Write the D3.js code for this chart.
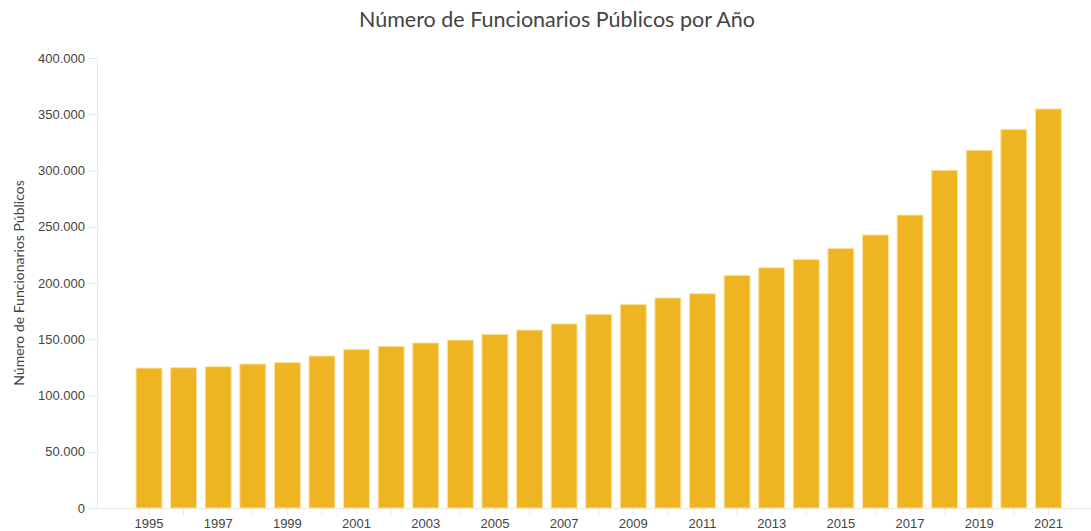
<!DOCTYPE html>
<html>
<head>
<meta charset="utf-8">
<script src="https://cdn.jsdelivr.net/npm/d3@7"></script>
<style>
  html, body { margin: 0; padding: 0; background: #fff; }
  svg { display: block; font-family: "Lato", "Open Sans", sans-serif; }
</style>
</head>
<body>
<svg id="chart" width="1091" height="531"></svg>
<script>
const years = [1995,1996,1997,1998,1999,2000,2001,2002,2003,2004,2005,2006,2007,2008,2009,2010,2011,2012,2013,2014,2015,2016,2017,2018,2019,2020,2021];
const values = [124400,124700,125600,128000,129200,135100,141000,143700,146700,149300,154400,158200,163600,172200,181000,186700,190500,206800,213600,221000,230800,242700,260400,300200,318000,336600,354700];
const yTicks = [0,50000,100000,150000,200000,250000,300000,350000,400000];
const labelYears = [1995,1997,1999,2001,2003,2005,2007,2009,2011,2013,2015,2017,2019,2021];
const title = "Número de Funcionarios Públicos por Año";
const yTitle = "Número de Funcionarios Públicos";

const svg = d3.select("#chart");
const W = 1091, H = 531;
const yTop = 58, yBottom = 508, xLeft = 97;

const locale = d3.formatLocale({decimal: ",", thousands: ".", grouping: [3], currency: ["", ""]});
const fmt = locale.format(",d");

const x = d3.scaleBand().domain(years).range([131.7, 1065.7]).paddingInner(0.25).paddingOuter(0.125);
const y = d3.scaleLinear().domain([0, 400000]).range([yBottom, yTop]);

// Title
svg.append("text")
  .attr("x", 557).attr("y", 27)
  .attr("text-anchor", "middle")
  .attr("font-size", 21.5)
  .attr("fill", "#444")
  .text(title);

// Y axis
const yAxis = svg.append("g").attr("transform", `translate(${xLeft},0)`)
  .call(d3.axisLeft(y).tickValues(yTicks).tickFormat(fmt).tickSize(9).tickSizeOuter(0));
yAxis.select(".domain").attr("stroke", "#e8e8e8");
yAxis.selectAll(".tick line").attr("stroke", "#e8e8e8");
yAxis.selectAll(".tick text").attr("fill", "#444").attr("font-size", 13).attr("x", -12);

// Y title
svg.append("text")
  .attr("transform", `translate(24,283) rotate(-90)`)
  .attr("text-anchor", "middle")
  .attr("font-size", 14)
  .attr("fill", "#444")
  .text(yTitle);

// X axis line
svg.append("line")
  .attr("x1", 88).attr("x2", W)
  .attr("y1", yBottom + 0.5).attr("y2", yBottom + 0.5)
  .attr("stroke", "#e8e8e8");

const xAxis = svg.append("g").attr("transform", `translate(0,${yBottom})`)
  .call(d3.axisBottom(x).tickValues(years).tickFormat(d => labelYears.includes(d) ? d : "").tickSize(7).tickSizeOuter(0));
xAxis.select(".domain").remove();
xAxis.selectAll(".tick line").attr("stroke", "#e8e8e8");
xAxis.selectAll(".tick text").attr("fill", "#444").attr("font-size", 13).attr("y", 11);

// Bars
svg.append("g").selectAll("rect")
  .data(years.map((yr, i) => ({yr, v: values[i]})))
  .join("rect")
  .attr("x", d => x(d.yr))
  .attr("width", x.bandwidth())
  .attr("y", d => y(d.v))
  .attr("height", d => yBottom - y(d.v))
  .attr("fill", "#EEB422")
  .attr("stroke", "#fae3a4")
  .attr("stroke-width", 1);
</script>
</body>
</html>
